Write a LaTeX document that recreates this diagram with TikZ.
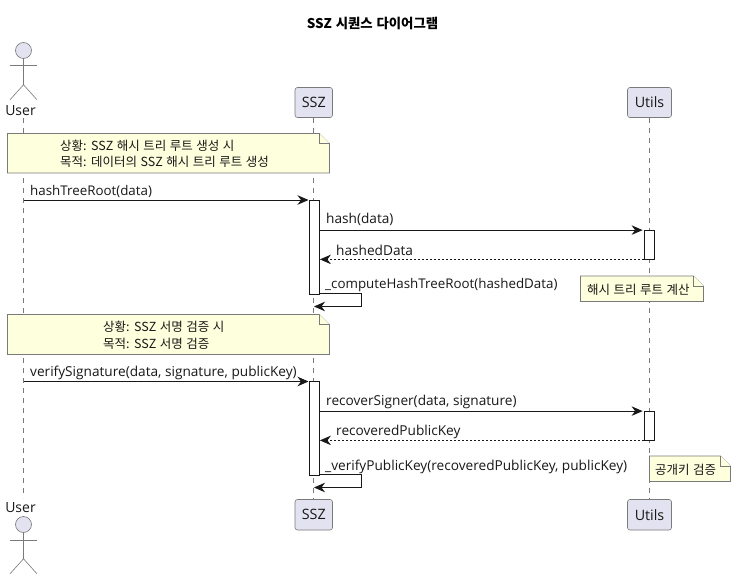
\documentclass[tikz,border=0pt]{standalone}
\usepackage{fontspec}
\setmainfont{Open Sans}
\newfontfamily\kr[WordSpace=1.25]{Noto Sans CJK KR}
\usetikzlibrary{arrows.meta,calc}
\definecolor{ink}{HTML}{181818}
\definecolor{partfill}{HTML}{E2E2F0}
\definecolor{notefill}{HTML}{FEFFDD}
\definecolor{edge}{HTML}{7A7A7A}
\tikzset{
  x=1pt,y=-1pt,
  txt/.style={inner sep=0pt,anchor=base west,text=ink,font=\fontsize{13.65}{15}\selectfont},
  txtnarrow/.style={txt,font=\fontsize{13.35}{15}\selectfont},
  notetxt/.style={inner sep=0pt,anchor=base west,text=ink,font=\kr\fontsize{12.5}{14}\selectfont},
  parttxt/.style={rectangle,rounded corners=2.5pt,draw=edge,line width=.6pt,fill=partfill,text=ink,inner sep=0pt,font=\fontsize{14.3}{16}\selectfont},
  lifeline/.style={draw=edge,line width=.6pt,dash pattern=on 5pt off 5pt},
  actorline/.style={draw=edge,line width=.6pt},
  head/.style={circle,draw=edge,line width=.6pt,fill=partfill,minimum size=16pt,inner sep=0pt},
  bar/.style={rectangle,draw=ink,line width=.8pt,fill=white,minimum width=10pt,inner sep=0pt},
  msg/.style={draw=ink,line width=.9pt,-{Stealth[length=11pt,width=9.5pt,inset=3.5pt]}},
  reply/.style={msg,dash pattern=on 2pt off 2pt},
  notebody/.style={draw=edge,line width=.6pt,fill=notefill},
}
\newcommand{\notebox}[4]{%
  \draw[notebody] (#1,#2) -- (#3-10,#2) -- (#3,#2+10) -- (#3,#4) -- (#1,#4) -- cycle;
  \draw[notebody] (#3-10,#2) -- (#3-10,#2+10) -- (#3,#2+10);
}
\newcommand{\actorfig}[1]{%
  \draw[actorline] (#1.south) -- ++(0,26) coordinate (#1hip);
  \draw[actorline] ($(#1.south)+(-13.5,7)$) -- ++(27,0);
  \draw[actorline] (#1hip) -- ++(-13.5,15);
  \draw[actorline] (#1hip) -- ++(13.5,15);
}
\begin{document}
\begin{tikzpicture}
\useasboundingbox (0,0) rectangle (736,580);
\fill[white] (0,0) rectangle (736,580);

\node[inner sep=0pt,anchor=base,text=black,font=\kr\bfseries\fontsize{13.4}{15}\selectfont] (title) at (372.5,29) {SSZ 시퀀스 다이어그램};

% participants
\node[txt,anchor=base,font=\fontsize{14}{16}\selectfont] (userlabel) at (20.5,115.7) {User};
\node[txt,anchor=base,font=\fontsize{14}{16}\selectfont] (userlabelb) at (20.5,512) {User};
\node[parttxt,minimum width=37.5pt,minimum height=30pt] (ssz) at (313.75,102.5) {SSZ};
\node[parttxt,minimum width=44pt,minimum height=30pt] (utils) at (649.5,102.5) {Utils};
\node[parttxt,minimum width=37.5pt,minimum height=30.5pt] (sszb) at (313.75,514.75) {SSZ};
\node[parttxt,minimum width=44pt,minimum height=30.5pt] (utilsb) at (649.5,514.75) {Utils};

% lifelines
\coordinate (ut) at (23.5,118);
\coordinate (ub) at (23.5,498);
\draw[lifeline] (ut) -- (ub);
\draw[lifeline] (ssz.south) -- (sszb.north);
\draw[lifeline] (utils.south) -- (utilsb.north);

% actors
\node[head] (userhead) at (23.5,50.5) {};
\actorfig{userhead}
\node[head] (userheadb) at (23.5,524.5) {};
\actorfig{userheadb}

% notes
\notebox{7.5}{133.5}{329.5}{173}
\node[notetxt] (n1a) at (60,150.7) {상황: SSZ 해시 트리 루트 생성 시};
\node[notetxt] (n1b) at (60,166.7) {목적: 데이터의 SSZ 해시 트리 루트 생성};
\notebox{7.5}{314.5}{329.5}{354.5}
\node[notetxt] (n2a) at (103,331.7) {상황: SSZ 서명 검증 시};
\node[notetxt] (n2b) at (103,348) {목적: SSZ 서명 검증};
\notebox{580.5}{276}{703.5}{301.5}
\node[notetxt] (n3) at (587,294) {해시 트리 루트 계산};
\notebox{649.5}{456}{730.5}{481.5}
\node[notetxt] (n4) at (655,474) {공개키 검증};

% activation bars
\node[bar,minimum height=94.5pt] (bar1) at (314.5,247.25) {};
\node[bar,minimum height=28.5pt] (ubar1) at (649.5,244.75) {};
\node[bar,minimum height=93.5pt] (bar2) at (314.5,428.25) {};
\node[bar,minimum height=28.5pt] (ubar2) at (649.5,425.75) {};

% first sequence
\coordinate (u1) at (23.5,200);
\coordinate (u1end) at (308.5,200);
\draw[msg] (u1) -- (u1end);
\node[txtnarrow] (m1) at (30,196) {hashTreeRoot(data)};
\draw[msg] (bar1.east |- ubar1.north) -- ($(ubar1.north west)+(-1.5,0)$);
\node[txt] (m2) at (326,224) {hash(data)};
\draw[reply] (ubar1.south west) -- (bar1.east |- ubar1.south);
\node[txt] (m3) at (336,255) {hashedData};
\coordinate (s1a) at (361,293.5);
\coordinate (s1b) at (361,306.5);
\coordinate (s1c) at (314,306.5);
\draw[msg] (bar1.south east |- s1a) -- (s1a) -- (s1b) -- (s1c);
\node[txtnarrow] (m4) at (325,288.7) {\_computeHashTreeRoot(hashedData)};

% second sequence
\coordinate (u2) at (23.5,381.5);
\coordinate (u2end) at (308.5,381.5);
\draw[msg] (u2) -- (u2end);
\node[txt] (m5) at (30,376.7) {verifySignature(data, signature, publicKey)};
\draw[msg] (bar2.east |- ubar2.north) -- ($(ubar2.north west)+(-1.5,0)$);
\node[txt] (m6) at (326,405.7) {recoverSigner(data, signature)};
\draw[reply] (ubar2.south west) -- (bar2.east |- ubar2.south);
\node[txt] (m7) at (336,435.7) {recoveredPublicKey};
\coordinate (s2a) at (361,474.5);
\coordinate (s2b) at (361,487.5);
\coordinate (s2c) at (314,487.5);
\draw[msg] (bar2.south east |- s2a) -- (s2a) -- (s2b) -- (s2c);
\node[txt] (m8) at (325,470) {\_verifyPublicKey(recoveredPublicKey, publicKey)};
\end{tikzpicture}
\end{document}
